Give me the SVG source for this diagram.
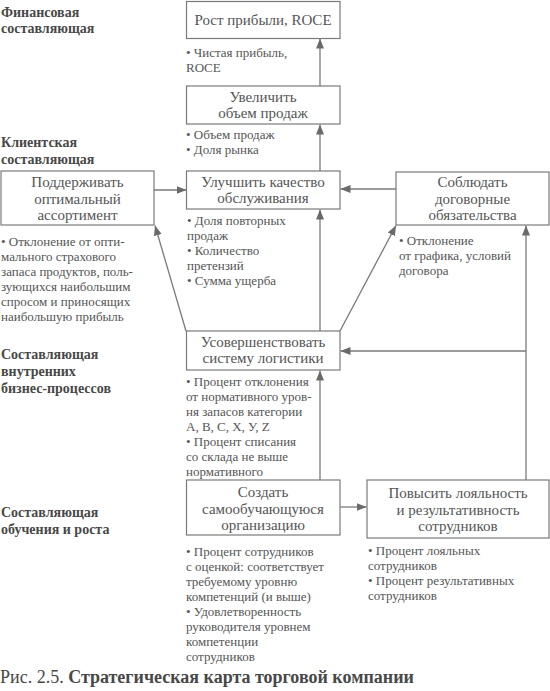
<svg xmlns="http://www.w3.org/2000/svg" width="550" height="691" viewBox="0 0 550 691">
<style>
text{font-family:"Liberation Serif",serif}
.box{fill:#fff;stroke:#7a7a7a;stroke-width:1.2}
.lbl{font-size:15px;fill:#555;text-anchor:middle}
.ind{font-size:13px;fill:#555}
.hd{font-size:14px;font-weight:bold;fill:#484848}
.cap{font-size:18px;fill:#484848}
.con{fill:none;stroke:#7a7a7a;stroke-width:1.3}
</style>
<defs>
<marker id="ah" viewBox="0 0 10 10" refX="10" refY="5" markerWidth="10" markerHeight="10" markerUnits="userSpaceOnUse" orient="auto">
<path d="M0,1 L10,5 L0,9 Z" fill="#6a6a6a"/>
</marker>
</defs>
<rect width="550" height="691" fill="#fff"/>
<g id="headings">
<text class="hd" x="1" y="17">Финансовая</text>
<text class="hd" x="1" y="33">составляющая</text>
<text class="hd" x="1" y="147">Клиентская</text>
<text class="hd" x="1" y="164">составляющая</text>
<text class="hd" x="1" y="359">Составляющая</text>
<text class="hd" x="1" y="376">внутренних</text>
<text class="hd" x="1" y="393">бизнес-процессов</text>
<text class="hd" x="1" y="517">Составляющая</text>
<text class="hd" x="1" y="534">обучения и роста</text>
</g>
<g id="connectors">
<line class="con" x1="320" y1="86" x2="320" y2="38.5" marker-end="url(#ah)"/>
<line class="con" x1="320" y1="171" x2="320" y2="124.5" marker-end="url(#ah)"/>
<line class="con" x1="154" y1="190" x2="186.5" y2="190" marker-end="url(#ah)"/>
<line class="con" x1="396" y1="189" x2="340.5" y2="189" marker-end="url(#ah)"/>
<line class="con" x1="186" y1="331" x2="155" y2="225.5" marker-end="url(#ah)"/>
<line class="con" x1="340" y1="331" x2="396" y2="225.5" marker-end="url(#ah)"/>
<line class="con" x1="320" y1="331" x2="320" y2="209.5" marker-end="url(#ah)"/>
<line class="con" x1="526" y1="480" x2="526" y2="225.5" marker-end="url(#ah)"/>
<line class="con" x1="526" y1="351" x2="340.5" y2="351" marker-end="url(#ah)"/>
<line class="con" x1="320" y1="480" x2="320" y2="370.5" marker-end="url(#ah)"/>
<line class="con" x1="340" y1="507" x2="366.5" y2="507" marker-end="url(#ah)"/>
</g>
<g id="n-profit">
<rect class="box" x="186.5" y="1.5" width="153.5" height="37"/>
<text class="lbl" x="263" y="25">Рост прибыли, ROCE</text>
<text class="ind" x="186" y="57">• Чистая прибыль,</text>
<text class="ind" x="186" y="72">ROCE</text>
</g>
<g id="n-sales">
<rect class="box" x="186.5" y="86" width="153.5" height="38"/>
<text class="lbl" x="263" y="102">Увеличить</text>
<text class="lbl" x="263" y="118">объем продаж</text>
<text class="ind" x="186" y="139">• Объем продаж</text>
<text class="ind" x="186" y="154">• Доля рынка</text>
</g>
<g id="n-assort">
<rect class="box" x="1" y="171" width="153" height="54"/>
<text class="lbl" x="77.5" y="187">Поддерживать</text>
<text class="lbl" x="77.5" y="203.5">оптимальный</text>
<text class="lbl" x="77.5" y="220">ассортимент</text>
<text class="ind" x="1" y="246">• Отклонение от опти-</text>
<text class="ind" x="1" y="261">мального страхового</text>
<text class="ind" x="1" y="276">запаса продуктов, поль-</text>
<text class="ind" x="1" y="291">зующихся наибольшим</text>
<text class="ind" x="1" y="306">спросом и приносящих</text>
<text class="ind" x="1" y="321">наибольшую прибыль</text>
</g>
<g id="n-service">
<rect class="box" x="186.5" y="171" width="153.5" height="38"/>
<text class="lbl" x="263" y="187">Улучшить качество</text>
<text class="lbl" x="263" y="203">обслуживания</text>
<text class="ind" x="187" y="225">• Доля повторных</text>
<text class="ind" x="187" y="240">продаж</text>
<text class="ind" x="187" y="255">• Количество</text>
<text class="ind" x="187" y="270">претензий</text>
<text class="ind" x="187" y="285">• Сумма ущерба</text>
</g>
<g id="n-contract">
<rect class="box" x="396" y="172" width="153" height="53"/>
<text class="lbl" x="472.5" y="187">Соблюдать</text>
<text class="lbl" x="472.5" y="203.5">договорные</text>
<text class="lbl" x="472.5" y="220">обязательства</text>
<text class="ind" x="399" y="245">• Отклонение</text>
<text class="ind" x="399" y="260">от графика, условий</text>
<text class="ind" x="399" y="275">договора</text>
</g>
<g id="n-logistics">
<rect class="box" x="186.5" y="331" width="153.5" height="39"/>
<text class="lbl" x="263" y="347">Усовершенствовать</text>
<text class="lbl" x="263" y="363">систему логистики</text>
<text class="ind" x="186" y="386">• Процент отклонения</text>
<text class="ind" x="186" y="401">от нормативного уров-</text>
<text class="ind" x="186" y="416">ня запасов категории</text>
<text class="ind" x="186" y="431">A, B, C, X, У, Z</text>
<text class="ind" x="186" y="446">• Процент списания</text>
<text class="ind" x="186" y="461">со склада не выше</text>
<text class="ind" x="186" y="476">нормативного</text>
</g>
<g id="n-learning">
<rect class="box" x="186.5" y="480" width="153.5" height="55"/>
<text class="lbl" x="263" y="497">Создать</text>
<text class="lbl" x="263" y="513.5">самообучающуюся</text>
<text class="lbl" x="263" y="530">организацию</text>
<text class="ind" x="186" y="556">• Процент сотрудников</text>
<text class="ind" x="186" y="571">с оценкой: соответствует</text>
<text class="ind" x="186" y="586">требуемому уровню</text>
<text class="ind" x="186" y="601">компетенций (и выше)</text>
<text class="ind" x="186" y="616">• Удовлетворенность</text>
<text class="ind" x="186" y="631">руководителя уровнем</text>
<text class="ind" x="186" y="646">компетенции</text>
<text class="ind" x="186" y="661">сотрудников</text>
</g>
<g id="n-loyalty">
<rect class="box" x="367" y="480" width="182" height="58"/>
<text class="lbl" x="458" y="498">Повысить лояльность</text>
<text class="lbl" x="458" y="514.5">и результативность</text>
<text class="lbl" x="458" y="531">сотрудников</text>
<text class="ind" x="368" y="555">• Процент лояльных</text>
<text class="ind" x="368" y="570">сотрудников</text>
<text class="ind" x="368" y="585">• Процент результативных</text>
<text class="ind" x="368" y="600">сотрудников</text>
</g>
<g id="caption">
<text class="cap" x="0" y="683">Рис. 2.5. <tspan font-weight="bold">Стратегическая карта торговой компании</tspan></text>
</g>
</svg>
